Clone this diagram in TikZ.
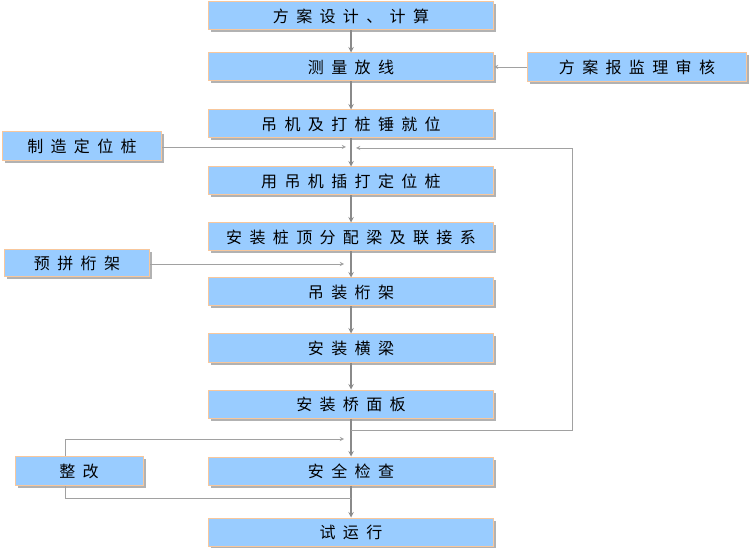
\documentclass[tikz,border=0pt]{standalone}
\usepackage{fontspec}
\usepackage{tikz}
\setmainfont{Noto Sans CJK SC}[LetterSpace=46]
\definecolor{boxblue}{HTML}{99CCFF}
\definecolor{boxedge}{HTML}{F8C79C}
\definecolor{linegray}{HTML}{8A8A8A}
\usetikzlibrary{arrows, shadows}
\tikzstyle{arrow} = [line width=1.4pt,draw=linegray,->,>=stealth]
\tikzstyle{sidearrow} = [line width=0.9pt,draw=linegray!80,->,>=stealth]

\begin{document}
\begin{tikzpicture}[x=1pt,y=-1pt,nodes={text depth=0.25ex,text height=1.25ex}]
                    \tikzstyle{every node}=[font=\fontsize{16}{18}\selectfont]
                    \tikzstyle{procbox} = [rectangle, draw=boxedge, line width=1pt, fill=boxblue, minimum width=285pt, minimum height=28pt, inner sep=2pt, drop shadow={shadow xshift=2.5pt, shadow yshift=-2.5pt, fill=black!30, opacity=1}]
                    \tikzstyle{sidebox} = [procbox, minimum height=29pt]

                    \useasboundingbox (0,0) rectangle (753,548);

                    % main column
                    \node[procbox](fasj) at (351,16) {方案设计、计算};
                    \node[procbox](clfx) at (351,67) {测量放线};
                    \node[procbox](djjw) at (351,124) {吊机及打桩锤就位};
                    \node[procbox](crdw) at (351,181) {用吊机插打定位桩};
                    \node[procbox](azfp) at (351,237) {安装桩顶分配梁及联接系};
                    \node[procbox](dzhj) at (351,292) {吊装桁架};
                    \node[procbox](azhl) at (351,348) {安装横梁};
                    \node[procbox](azqm) at (351,404) {安装桥面板};
                    \node[procbox](aqjc) at (351,471) {安全检查};
                    \node[procbox](syx) at (351,532) {试运行};

                    % side boxes
                    \node[sidebox, minimum width=219pt](jlsh) at (637,67) {方案报监理审核};
                    \node[sidebox, minimum width=159pt](zzdw) at (82,146) {制造定位桩};
                    \node[sidebox, minimum width=145pt, minimum height=27pt](ppj) at (77,263) {预拼桁架};
                    \node[sidebox, minimum width=128pt](zg) at (79,471) {整改};

                    \coordinate (zzin) at (346,147);
                    \coordinate (ppin) at (344,264);
                    \coordinate (loopout) at (351,430);
                    \coordinate (loopin) at (356,148);
                    \coordinate (zgin) at (344,439);
                    \coordinate (zgout) at (351,498);

                    \draw[arrow] (fasj) -- (clfx);
                    \draw[arrow] (clfx) -- (djjw);
                    \draw[arrow] (djjw) -- (crdw);
                    \draw[arrow] (crdw) -- (azfp);
                    \draw[arrow] (azfp) -- (dzhj);
                    \draw[arrow] (dzhj) -- (azhl);
                    \draw[arrow] (azhl) -- (azqm);
                    \draw[arrow] (azqm) -- (aqjc);
                    \draw[arrow] (aqjc) -- (syx);

                    \draw[sidearrow] (jlsh) -- (clfx);
                    \draw[sidearrow] (zzdw.east |- zzin) -- (zzin);
                    \draw[sidearrow] (ppj.east |- ppin) -- (ppin);
                    \draw[sidearrow] (loopout) -- (572,430) -- (572,148) -- (loopin);
                    \draw[sidearrow] ([xshift=-14pt]zg.north) |- (zgin);
                    \draw[line width=0.9pt,draw=linegray!80] ([xshift=-14pt]zg.south) |- (zgout);

            \end{tikzpicture}
\end{document}
